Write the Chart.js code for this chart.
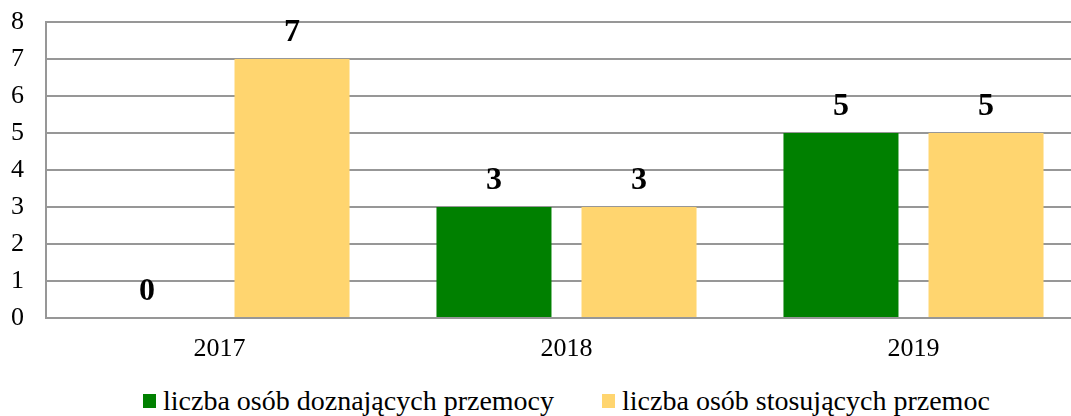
<!DOCTYPE html>
<html lang="pl">
<head>
<meta charset="UTF-8">
<title>Przemoc w rodzinie 2017-2019</title>
<script src="https://cdn.jsdelivr.net/npm/chart.js@4.4.0/dist/chart.umd.min.js"></script>
<style>
  html, body {
    margin: 0;
    padding: 0;
    background: #fff;
    overflow: hidden;
    font-family: 'Liberation Serif', 'Times New Roman', serif;
  }
  .wrap {
    position: relative;
    width: 1090px;
    height: 375px;
  }
  #legend {
    position: absolute;
    left: 143px;
    top: 383px;
    margin: 0;
    padding: 0;
    list-style: none;
    display: flex;
    white-space: nowrap;
  }
  #legend li {
    display: flex;
    align-items: center;
    margin-right: 48px;
    font-size: 28px;
    line-height: 36px;
    color: #000;
  }
  #legend .box {
    display: inline-block;
    width: 13px;
    height: 14px;
    margin-right: 7px;
  }
</style>
</head>
<body>
  <div class="wrap">
    <canvas id="chart"></canvas>
  </div>
  <ul id="legend"></ul>

<script>
  const years = ['2017', '2018', '2019'];
  const victims = [0, 3, 5];      // liczba osób doznających przemocy
  const perpetrators = [7, 3, 5]; // liczba osób stosujących przemoc

  const GREEN = '#008000';
  const YELLOW = '#FFD56F';
  const GRID = '#979797';

  // numbers written above each bar
  const valueLabels = {
    id: 'valueLabels',
    afterDatasetsDraw(chart) {
      const ctx = chart.ctx;
      ctx.save();
      ctx.font = 'bold 32px "Liberation Serif"';
      ctx.fillStyle = '#000';
      ctx.textAlign = 'center';
      ctx.textBaseline = 'alphabetic';
      chart.data.datasets.forEach(function (ds, i) {
        chart.getDatasetMeta(i).data.forEach(function (bar, j) {
          ctx.fillText(ds.data[j], bar.x, bar.y - 18);
        });
      });
      ctx.restore();
    }
  };

  // legend as a list under the chart
  const htmlLegend = {
    id: 'htmlLegend',
    afterUpdate(chart) {
      const ul = document.getElementById('legend');
      ul.innerHTML = '';
      chart.options.plugins.legend.labels.generateLabels(chart).forEach(function (item) {
        const li = document.createElement('li');
        const box = document.createElement('span');
        box.className = 'box';
        box.style.background = item.fillStyle;
        li.appendChild(box);
        li.appendChild(document.createTextNode(item.text));
        ul.appendChild(li);
      });
    }
  };

  new Chart(document.getElementById('chart'), {
    type: 'bar',
    data: {
      labels: years,
      datasets: [{
        label: 'liczba osób doznających przemocy',
        data: victims,
        backgroundColor: GREEN,
        categoryPercentage: 0.836,
        barPercentage: 0.793
      }, {
        label: 'liczba osób stosujących przemoc',
        data: perpetrators,
        backgroundColor: YELLOW,
        categoryPercentage: 0.836,
        barPercentage: 0.793
      }]
    },
    options: {
      responsive: true,
      maintainAspectRatio: false,
      animation: false,
      layout: { padding: { top: 22, right: 3, left: 0, bottom: 0 } },
      plugins: {
        legend: { display: false },
        tooltip: { enabled: false }
      },
      scales: {
        x: {
          grid: { display: false, drawTicks: false },
          border: { color: GRID, width: 2 },
          ticks: {
            color: '#000',
            padding: 16,
            font: { family: 'Liberation Serif', size: 26 }
          },
          afterFit(scale) {
            scale.height = 57;
            scale.paddingLeft = 0;
            scale.paddingRight = 0;
          }
        },
        y: {
          min: 0,
          max: 8,
          grid: { color: GRID, lineWidth: 2, drawTicks: false },
          border: { color: GRID, width: 2 },
          ticks: {
            stepSize: 1,
            color: '#000',
            padding: 22,
            font: { family: 'Liberation Serif', size: 26 }
          },
          afterFit(scale) {
            scale.width = 46;
            scale.paddingTop = 0;
            scale.paddingBottom = 0;
          }
        }
      }
    },
    plugins: [valueLabels, htmlLegend]
  });
</script>
</body>
</html>
